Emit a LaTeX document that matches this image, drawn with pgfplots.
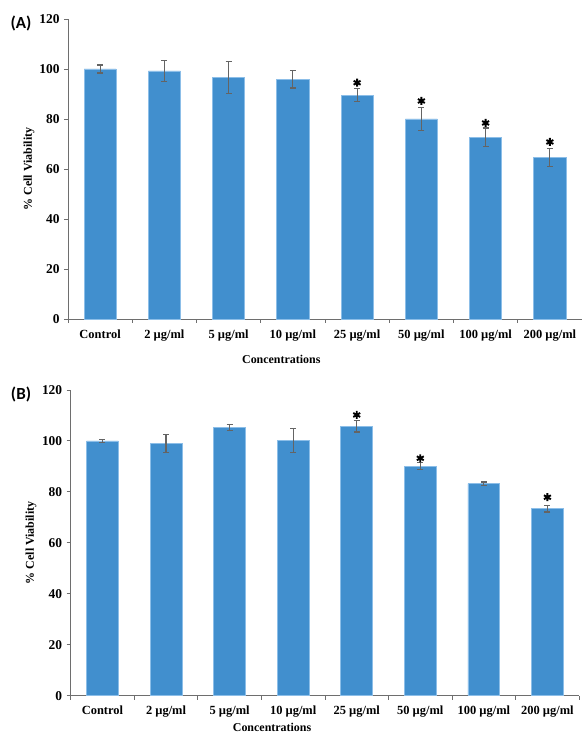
\documentclass[border=0pt]{standalone}
\usepackage{pgfplots}
\pgfplotsset{compat=1.18}
\usepackage{fontspec}
\setmainfont{Liberation Serif}
\newfontfamily\calibri{Carlito}
\definecolor{barblue}{RGB}{65,143,206}
\definecolor{baredge}{RGB}{140,190,232}
\definecolor{errgray}{RGB}{100,100,100}
\definecolor{axgray}{RGB}{110,110,110}
\pgfplotsset{
 cellstyle/.style={
  scale only axis,
  clip=false,
  xmin=-0.5, xmax=7.5, ymin=0, ymax=120,
  ytick={0,20,...,120},
  xtick={-0.5,0.5,...,7.5},
  x tick label as interval,
  xticklabels={Control,2 µg/ml,5 µg/ml,10 µg/ml,25 µg/ml,50 µg/ml,100 µg/ml,200 µg/ml},
  axis x line*=bottom, axis y line*=left,
  axis line style={axgray, line width=0.9pt, -},
  tick style={axgray, line width=0.9pt},
  tick align=outside,
  major tick length=4bp,
  /pgf/number format/assume math mode=true,
  xticklabel style={font=\fontsize{12.5}{14}\selectfont\bfseries, yshift=-3bp},
  yticklabel style={font=\fontsize{13.5}{14}\selectfont\bfseries, xshift=-1bp},
  ylabel={\% Cell Viability},
  xlabel={Concentrations},
  label style={font=\fontsize{12}{14}\selectfont\bfseries},
 },
 barstyle/.style={ybar, bar width=0.5, /pgf/bar shift=0pt, fill=barblue, draw=baredge, line width=0.8pt,
   error bars/.cd, y dir=both, y explicit,
   error bar style={errgray, line width=1.1pt},
   error mark options={rotate=90, errgray, mark size=3bp, line width=1.1pt}},
 starstyle/.style={only marks, mark=asterisk, mark size=4bp, mark options={black, line width=1.9pt}},
}
\begin{document}
\begin{tikzpicture}
\useasboundingbox (0,0) rectangle (582bp,735bp);
% Panel A
\begin{axis}[cellstyle, at={(68bp,416bp)}, anchor=south west, width=514bp, height=300bp,
  ylabel style={at={(axis description cs:-0.076,0.5)}, anchor=center, rotate=0},
  xlabel style={at={(axis description cs:0.415,-0.135)}, anchor=center}]
\addplot[barstyle] coordinates {
 (0,100) +- (0,1.6)
 (1,99.2) +- (0,4.1)
 (2,96.6) +- (0,6.3)
 (3,95.9) +- (0,3.5)
 (4,89.5) +- (0,2.6)
 (5,80.0) +- (0,4.5)
 (6,72.7) +- (0,3.7)
 (7,64.6) +- (0,3.6)
};
\addplot[starstyle] coordinates {(4,94.5) (5,87.2) (6,78.4) (7,70.8)};
\end{axis}
% Panel B
\begin{axis}[cellstyle, at={(70.7bp,39.3bp)}, anchor=south west, width=508.5bp, height=305.7bp,
  ylabel style={at={(axis description cs:-0.078,0.5)}, anchor=center, rotate=0},
  xlabel style={at={(axis description cs:0.396,-0.105)}, anchor=center}]
\addplot[barstyle] coordinates {
 (0,100) +- (0,0.7)
 (1,99.1) +- (0,3.5)
 (2,105.3) +- (0,1.1)
 (3,100.3) +- (0,4.7)
 (4,105.7) +- (0,2.2)
 (5,90.1) +- (0,1.3)
 (6,83.2) +- (0,0.7)
 (7,73.4) +- (0,1.3)
};
\addplot[starstyle] coordinates {(4,110.2) (5,93.2) (7,77.9)};
\end{axis}
\node[font=\calibri\bfseries\fontsize{17}{18}\selectfont] at (21bp,711bp) {(A)};
\node[font=\calibri\bfseries\fontsize{17}{18}\selectfont] at (21bp,340bp) {(B)};
\end{tikzpicture}
\end{document}
